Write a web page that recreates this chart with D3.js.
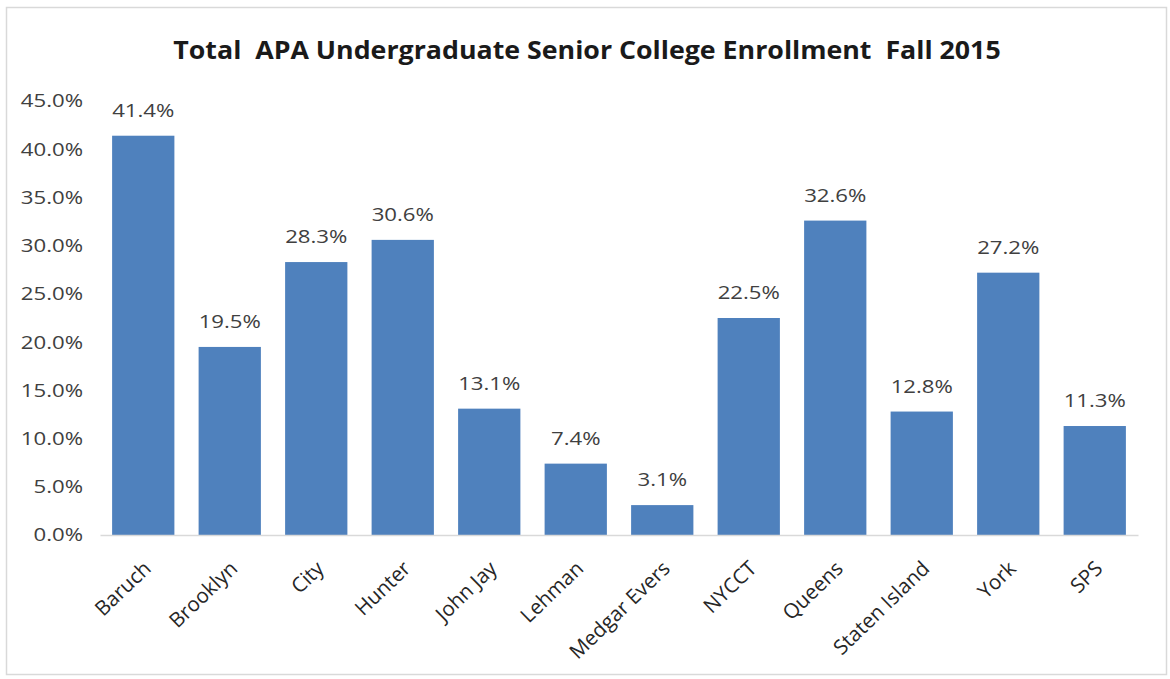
<!DOCTYPE html>
<html><head><meta charset="utf-8">
<script src="https://cdn.jsdelivr.net/npm/d3@7"></script>
<style>html,body{margin:0;padding:0;background:#fff}svg{display:block}</style>
</head><body>
<svg id="c" width="1170" height="679"></svg>
<script>
const categories = ["Baruch","Brooklyn","City","Hunter","John Jay","Lehman","Medgar Evers","NYCCT","Queens","Staten Island","York","SPS"];
const values = [41.4, 19.5, 28.3, 30.6, 13.1, 7.4, 3.1, 22.5, 32.6, 12.8, 27.2, 11.3];
const yTicks = [0, 5, 10, 15, 20, 25, 30, 35, 40, 45];
const title = "Total  APA Undergraduate Senior College Enrollment  Fall 2015";

const svg = d3.select("#c");
const font = "'Open Sans', sans-serif";
const sx = 1.2;
svg.append("rect").attr("x",6.5).attr("y",7.5).attr("width",1160).attr("height",667)
  .attr("fill","#fff").attr("stroke","#d9d9d9").attr("stroke-width",1.5);

const x = d3.scaleBand().domain(categories).range([100,1138]).paddingInner(0.28).paddingOuter(0.14);
const y = d3.scaleLinear().domain([0,45]).range([535,101]);

svg.append("text").attr("transform","translate(587,59) scale(1.05,1)").attr("text-anchor","middle")
  .attr("font-family",font).attr("font-weight","bold").attr("font-size",25.5)
  .attr("fill","#1a1a1a").style("white-space","pre").text(title);

const yAxis = svg.append("g").attr("transform","translate(100,0)")
  .call(d3.axisLeft(y).tickValues(yTicks).tickSize(0).tickPadding(17).tickFormat(d=>d.toFixed(1)+"%"));
yAxis.select(".domain").remove();
yAxis.selectAll("text").attr("font-family",font).attr("font-size",18.5).attr("fill","#404040")
  .attr("x",-17/sx).attr("transform",`scale(${sx},1)`);

svg.append("g").selectAll("rect").data(values).join("rect")
  .attr("x",(d,i)=>x(categories[i])).attr("width",x.bandwidth())
  .attr("y",d=>y(d)).attr("height",d=>y(0)-y(d)).attr("fill","#4f81bd");

const xAxis = svg.append("g").attr("transform","translate(0,535)")
  .call(d3.axisBottom(x).tickSize(0).tickPadding(0));
xAxis.select(".domain").attr("stroke","#d9d9d9").attr("stroke-width",1.5);
xAxis.selectAll("text").attr("font-family",font).attr("font-size",20.5).attr("fill","#262626")
  .attr("text-anchor","end").attr("dy",null).attr("y",0)
  .attr("transform","translate(9,35) rotate(-44)");

svg.append("g").selectAll("text").data(values).join("text")
  .attr("transform",(d,i)=>`translate(${x(categories[i])+x.bandwidth()/2},${y(d)-19}) scale(${sx},1)`)
  .attr("text-anchor","middle").attr("font-family",font).attr("font-size",18.5).attr("fill","#404040")
  .text(d=>d.toFixed(1)+"%");
</script>
</body></html>
